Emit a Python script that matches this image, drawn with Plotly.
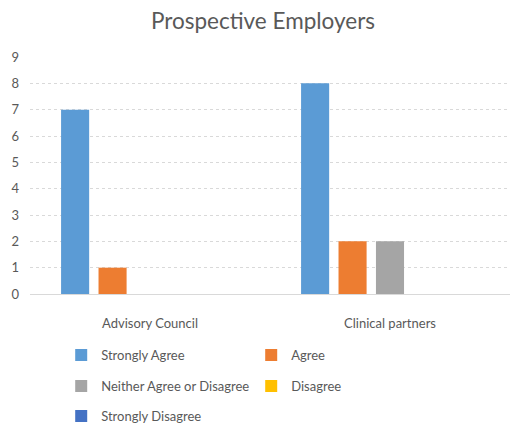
import plotly.graph_objects as go

categories = ["Advisory Council", "Clinical partners"]
series_names = ["Strongly Agree", "Agree", "Neither Agree or Disagree", "Disagree", "Strongly Disagree"]
strongly_agree = [7, 8]
agree = [1, 2]
neither = [0, 2]
disagree = [0, 0]
strongly_disagree = [0, 0]
y_ticks = [0, 1, 2, 3, 4, 5, 6, 7, 8, 9]

series_values = [strongly_agree, agree, neither, disagree, strongly_disagree]
colors = ["#5b9bd5", "#ed7d31", "#a5a5a5", "#ffc000", "#4472c4"]
legend_ids = ["legend", "legend", "legend2", "legend2", "legend3"]

FONT = "Lato"
TEXT = "#595959"

fig = go.Figure()
for name, vals, col, lg in zip(series_names, series_values, colors, legend_ids):
    fig.add_trace(go.Bar(x=categories, y=vals, name=name, marker_color=col,
                         marker_line_width=0, legend=lg))

legend_common = dict(orientation="h", xanchor="left", yanchor="middle",
                     font=dict(family=FONT, size=13, color=TEXT),
                     bgcolor="rgba(0,0,0,0)", entrywidth=145, itemwidth=30,
                     traceorder="normal")
legend_x = 0.065

fig.update_layout(
    width=512, height=432,
    margin=dict(l=30, r=2, t=57, b=137),
    paper_bgcolor="white", plot_bgcolor="white",
    font=dict(family=FONT, color=TEXT),
    title=dict(text="Prospective Employers", x=263 / 512, xanchor="center",
               y=1 - 21 / 432, yanchor="middle",
               font=dict(family=FONT, size=22.5, color=TEXT)),
    barmode="group", bargap=0.22, bargroupgap=0.25,
    xaxis=dict(showgrid=False, showline=True, linecolor="#d9d9d9", linewidth=1,
               ticks="", tickfont=dict(family=FONT, size=13, color=TEXT),
               ticklabelstandoff=17),
    yaxis=dict(range=[0, 9], tickvals=y_ticks, showgrid=True,
               gridcolor="#d9d9d9", griddash="dot", gridwidth=1,
               zeroline=False, showline=False, ticks="",
               tickfont=dict(family=FONT, size=13, color=TEXT),
               ticklabelstandoff=10),
    legend=dict(x=legend_x, y=(295 - 355) / 238, **legend_common),
    legend2=dict(x=legend_x, y=(295 - 386) / 238, **legend_common),
    legend3=dict(x=legend_x, y=(295 - 416) / 238, **legend_common),
)

fig.write_html("out.html")
